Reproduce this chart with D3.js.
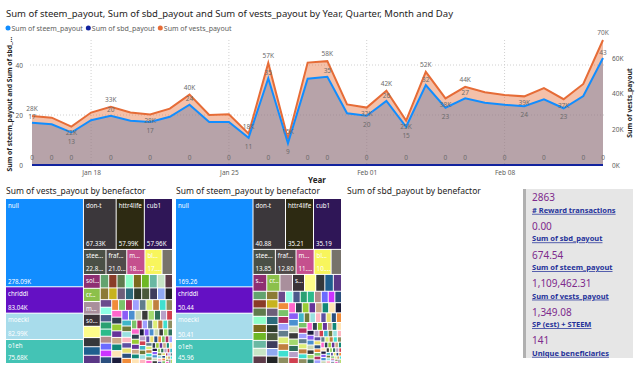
<!DOCTYPE html>
<html lang="en">
<head>
  <meta charset="UTF-8">
  <title>Steem payouts by day and benefactor</title>
  <script src="https://d3js.org/d3.v7.min.js"></script>
  <style>
    body {
      margin: 0;
      background: #fff;
    }

    svg text {
      font-family: "Segoe UI", "Noto Sans", sans-serif;
    }

    .tick text {
      fill: #605e5c;
      font-size: 6.5px;
    }

    .data-label {
      fill: #6b6b6b;
      font-size: 6.5px;
      text-anchor: middle;
    }

    .tm-label {
      fill: #fff;
      font-size: 6.2px;
    }
  </style>
</head>

<body>
  <svg id="dash" width="640" height="369"></svg>

  <script>
    // ---- daily series ----
    const days = [
      "2018-01-15", "2018-01-16", "2018-01-17", "2018-01-18", "2018-01-19", "2018-01-20",
      "2018-01-21", "2018-01-22", "2018-01-23", "2018-01-24", "2018-01-25", "2018-01-26",
      "2018-01-27", "2018-01-28", "2018-01-29", "2018-01-30", "2018-01-31", "2018-02-01",
      "2018-02-02", "2018-02-03", "2018-02-04", "2018-02-05", "2018-02-06", "2018-02-07",
      "2018-02-08", "2018-02-09", "2018-02-10", "2018-02-11", "2018-02-12", "2018-02-13"
    ];
    const steemPayout = [
      16.9, 16.3, 13.0, 17.9, 19.7, 17.7, 17.2, 19.3, 24.1, 17.2, 17.2, 10.9, 34.7, 8.7, 34.5,
      35.3, 20.7, 19.7, 25.6, 15.3, 32.0, 22.9, 26.7, 24.9, 24.1, 23.5, 26.3, 22.7, 27.6, 42.8
    ];
    const sbdPayout = [
      0, 0, 0, 0, 0, 0, 0, 0, 0, 0, 0, 0, 0, 0, 0,
      0, 0, 0, 0, 0, 0, 0, 0, 0, 0, 0, 0, 0, 0, 0
    ];
    const vestsPayout = [
      27600, 26600, 21600, 29500, 32800, 29500, 28400, 31700, 39600, 28100, 28500, 17600, 57400, 14600, 57600,
      58400, 34100, 32300, 41800, 25000, 52400, 37500, 44000, 40900, 39400, 38600, 43200, 37000, 45600, 70300
    ];
    // days whose values carry a label, as in the report
    const valueLabelDays = [0, 2, 4, 6, 8, 11, 12, 13, 15, 17, 18, 19, 20, 21, 22, 25, 27, 29];
    const sbdLabelDays = [0, 1, 2, 4, 6, 8, 10, 12, 14, 15, 17, 19, 21, 22, 24, 26, 28, 29];

    const dateTicks = ["2018-01-18", "2018-01-25", "2018-02-01", "2018-02-08"];
    const leftTicks = [0, 20, 40];
    const rightTicks = [0, 20000, 40000, 60000];

    // ---- by benefactor ----
    const benefactorNames = [
      "null", "chriddi", "moecki", "o1eh", "don-t", "httr4life", "cub1",
      "stee...", "fraf...", "m...", "bl...", "", "sol...", "cr...", "m...", "so..."
    ];
    const vestsByBenefactor = [
      278.09, 83.04, 82.99, 75.68, 67.33, 57.99, 57.96, 22.82, 21.04, 18.4, 17.3, 10.6,
      9.4, 9.0, 8.6, 8.2, 7.7, 6.2, 5.8, 5.6,
      4.6, 4.5, 4.5, 4.4, 4.4, 4.3, 4.3, 4.2, 4.1, 4.0, 4.0, 3.9, 3.9, 3.8, 3.8, 3.7,
      3.6, 3.5, 3.5, 3.4, 3.4, 3.3, 3.3, 3.2, 3.2,
      3.1, 3.1, 3.0, 3.0, 3.0, 3.0, 2.9, 2.9, 2.9, 2.9, 2.8, 2.8, 2.8, 2.8, 2.7, 2.7, 2.7, 2.7,
      2.6, 2.6, 2.6, 2.6, 2.5, 2.5, 2.4, 2.4, 2.3, 2.3, 2.2, 2.2, 2.1, 2.1, 2.0, 2.0, 2.0,
      1.9, 1.9, 1.9, 1.8, 1.8, 1.8, 1.7, 1.7, 1.7, 1.6, 1.6, 1.6, 1.5, 1.5, 1.5,
      1.4, 1.4, 1.4, 1.4, 1.3, 1.3, 1.3, 1.3, 1.2, 1.2, 1.2, 1.2, 1.1, 1.1, 1.1, 1.1,
      1.0, 1.0, 1.0, 1.0, 0.9, 0.9, 0.9, 0.9, 0.9, 0.8, 0.8, 0.8, 0.8, 0.8,
      0.7, 0.7, 0.7, 0.7, 0.7, 0.6, 0.6, 0.6, 0.6, 0.6, 0.5, 0.5, 0.5, 0.5, 0.5,
      0.4, 0.4, 0.4, 0.4, 0.4, 0.3, 0.3, 0.3, 0.3, 0.3, 0.3, 0.3, 0.3, 0.3, 0.3
    ];
    const steemByBenefactor = [
      169.26, 50.44, 50.41, 45.96, 40.88, 35.21, 35.19, 13.85, 12.80, 11.19, 10.52, 6.44,
      5.72, 5.47, 5.23, 4.99, 4.68, 3.77, 3.53, 3.40,
      2.80, 2.74, 2.74, 2.68, 2.68, 2.61, 2.61, 2.55, 2.49, 2.43, 2.43, 2.37, 2.37, 2.31, 2.31, 2.25,
      2.19, 2.13, 2.13, 2.07, 2.07, 2.01, 2.01, 1.95, 1.95,
      1.88, 1.88, 1.82, 1.82, 1.82, 1.82, 1.76, 1.76, 1.76, 1.76, 1.70, 1.70, 1.70, 1.70, 1.64, 1.64, 1.64, 1.64,
      1.58, 1.58, 1.58, 1.58, 1.52, 1.52, 1.46, 1.46, 1.40, 1.40, 1.34, 1.34, 1.28, 1.28, 1.22, 1.22, 1.22,
      1.16, 1.16, 1.16, 1.09, 1.09, 1.09, 1.03, 1.03, 1.03, 0.97, 0.97, 0.97, 0.91, 0.91, 0.91,
      0.85, 0.85, 0.85, 0.85, 0.79, 0.79, 0.79, 0.79, 0.73, 0.73, 0.73, 0.73, 0.67, 0.67, 0.67, 0.67,
      0.61, 0.61, 0.61, 0.61, 0.55, 0.55, 0.55, 0.55, 0.55, 0.49, 0.49, 0.49, 0.49, 0.49,
      0.43, 0.43, 0.43, 0.43, 0.43, 0.36, 0.36, 0.36, 0.36, 0.36, 0.30, 0.30, 0.30, 0.30, 0.30,
      0.24, 0.24, 0.24, 0.24, 0.24, 0.18, 0.18, 0.18, 0.18, 0.18, 0.18, 0.18, 0.18, 0.18, 0.18
    ];

    // ---- cards ----
    const kpiValues = ["2863", "0.00", "674.54", "1,109,462.31", "1,349.08", "141"];
    const kpiLabels = ["# Reward transactions", "Sum of sbd_payout", "Sum of steem_payout",
      "Sum of vests_payout", "SP (est) + STEEM", "Unique beneficiaries"];

    const tileColors = [
      "#118dff", "#6410c4", "#a8dceb", "#44c3b5", "#3b373b", "#2d2a12", "#2f1657",
      "#4a5046", "#504a49", "#c5508e", "#f8f55c", "#77736b",
      "#8e2f72", "#8cc04b", "#a98f9c", "#3b3338", "#fdfd8a", "#35383b", "#1f5f8e", "#5a3786",
      "#63a36f", "#8a3c28", "#5f7b4d", "#8dffc8", "#7b6b1d", "#6eb825", "#6ab8a3", "#c8e5c6", "#5d3b49",
      "#8c7b36", "#c7b31e", "#6d5f79", "#2c6b7c", "#2e3c2c", "#4b5a3b", "#3e3d5d", "#90a9f2",
      "#222426", "#6b4a8c", "#8fffe6", "#4b5b8b", "#2aa172", "#2cbb8a", "#b38c8c", "#6b6bff", "#cc33ff"
    ];
    const palette = ["#8b5cf6", "#4a8fd0", "#c9d7b5", "#3a3a3a", "#a2d96e", "#2f6f5a", "#b8a0c8", "#d04050",
      "#3fb6c8", "#6e7a3a", "#9ae0e0", "#ffb6c1", "#5e4fa2", "#e8e070", "#2b4f7e", "#f08c3a", "#7ac36a",
      "#b03060", "#a0a0ff", "#607d8b", "#ddee77", "#c08040", "#40e0d0", "#8e8e60", "#ff66cc", "#304050",
      "#99cc33", "#663399", "#ccaa88", "#118877", "#ffe4b5", "#1c1c3c"];
    const tileColor = i => tileColors[i] || palette[i % palette.length];

    const svg = d3.select("#dash");

    // ---- line / area chart ----
    svg.append("text")
      .attr("x", 6).attr("y", 17)
      .attr("font-size", "9.5px").attr("fill", "#252423")
      .text("Sum of steem_payout, Sum of sbd_payout and Sum of vests_payout by Year, Quarter, Month and Day");

    const seriesInfo = [
      { name: "Sum of steem_payout", color: "#118dff" },
      { name: "Sum of sbd_payout", color: "#12239e" },
      { name: "Sum of vests_payout", color: "#e66c37" }
    ];
    let lx = 8;
    seriesInfo.forEach(s => {
      svg.append("circle").attr("cx", lx).attr("cy", 28).attr("r", 2.5).attr("fill", s.color);
      const t = svg.append("text")
        .attr("x", lx + 3.5).attr("y", 30.5)
        .attr("font-size", "7px").attr("fill", "#605e5c")
        .text(s.name);
      lx += t.node().getComputedTextLength() + 9;
    });

    const parseDay = d3.timeParse("%Y-%m-%d");
    const dates = days.map(parseDay);
    const data = dates.map((d, i) => ({
      date: d, steem: steemPayout[i], sbd: sbdPayout[i], vests: vestsPayout[i]
    }));

    const x = d3.scaleTime().domain(d3.extent(dates)).range([32, 603]);
    const yL = d3.scaleLinear().domain([0, 50]).range([165, 40]);
    const yR = d3.scaleLinear().domain([0, d3.max(vestsPayout)]).range([165, 40]);

    // dotted grid
    svg.append("g").selectAll("line")
      .data(leftTicks.filter(d => d > 0))
      .join("line")
      .attr("x1", 30).attr("x2", 606)
      .attr("y1", d => yL(d)).attr("y2", d => yL(d))
      .attr("stroke", "#d0d0d0").attr("stroke-dasharray", "1,2");
    svg.append("g").selectAll("line")
      .data(dateTicks.map(parseDay))
      .join("line")
      .attr("x1", d => x(d)).attr("x2", d => x(d))
      .attr("y1", 40).attr("y2", 165)
      .attr("stroke", "#d0d0d0").attr("stroke-dasharray", "1,2");

    svg.append("g")
      .attr("transform", "translate(25,0)")
      .call(d3.axisLeft(yL).tickValues(leftTicks).tickSize(0).tickPadding(2))
      .call(g => g.select(".domain").remove());

    svg.append("g")
      .attr("transform", "translate(610,0)")
      .call(d3.axisRight(yR).tickValues(rightTicks).tickSize(0).tickPadding(2)
        .tickFormat(d => (d / 1000) + "K"))
      .call(g => g.select(".domain").remove());

    svg.append("g")
      .attr("transform", "translate(0,165)")
      .call(d3.axisBottom(x).tickValues(dateTicks.map(parseDay)).tickSize(0).tickPadding(5)
        .tickFormat(d3.timeFormat("%b %d")))
      .call(g => g.select(".domain").remove());

    svg.append("text")
      .attr("x", 317).attr("y", 183)
      .attr("text-anchor", "middle")
      .attr("font-size", "8px").attr("font-weight", "bold").attr("fill", "#252423")
      .text("Year");

    svg.append("text")
      .attr("transform", "translate(11.5,104) rotate(-90)")
      .attr("text-anchor", "middle")
      .attr("font-size", "6.8px").attr("font-weight", "bold").attr("fill", "#252423")
      .text("Sum of steem_payout and Sum of sbd_...");

    svg.append("text")
      .attr("transform", "translate(632,103) rotate(-90)")
      .attr("text-anchor", "middle")
      .attr("font-size", "6.8px").attr("font-weight", "bold").attr("fill", "#252423")
      .text("Sum of vests_payout");

    // areas
    svg.append("path")
      .datum(data)
      .attr("fill", "#118dff").attr("fill-opacity", 0.45)
      .attr("d", d3.area().x(d => x(d.date)).y0(yL(0)).y1(d => yL(d.steem)));

    svg.append("path")
      .datum(data)
      .attr("fill", "#e66c37").attr("fill-opacity", 0.43)
      .attr("d", d3.area().x(d => x(d.date)).y0(yR(0)).y1(d => yR(d.vests)));

    // lines
    svg.append("path")
      .datum(data)
      .attr("fill", "none").attr("stroke", "#e66c37").attr("stroke-width", 2)
      .attr("d", d3.line().x(d => x(d.date)).y(d => yR(d.vests)));

    svg.append("path")
      .datum(data)
      .attr("fill", "none").attr("stroke", "#118dff").attr("stroke-width", 2)
      .attr("d", d3.line().x(d => x(d.date)).y(d => yL(d.steem)));

    svg.append("path")
      .datum(data)
      .attr("fill", "none").attr("stroke", "#12239e").attr("stroke-width", 2)
      .attr("d", d3.line().x(d => x(d.date)).y(d => yL(d.sbd)));

    // data labels: above at local peaks, below otherwise
    const isPeak = (arr, i) => i === 0 || i === arr.length - 1 ||
      (arr[i] >= arr[i - 1] && arr[i] >= arr[i + 1]);

    svg.append("g").selectAll("text")
      .data(valueLabelDays)
      .join("text")
      .attr("class", "data-label")
      .attr("x", i => x(dates[i]))
      .attr("y", i => (isPeak(vestsPayout, i) || yL(steemPayout[i]) > 135)
        ? yR(vestsPayout[i]) - 5 : yR(vestsPayout[i]) + 8.5)
      .text(i => Math.round(vestsPayout[i] / 1000) + "K");

    svg.append("g").selectAll("text")
      .data(valueLabelDays)
      .join("text")
      .attr("class", "data-label")
      .attr("x", i => x(dates[i]))
      .attr("y", i => isPeak(steemPayout, i) ? yL(steemPayout[i]) - 3.5 : yL(steemPayout[i]) + 11)
      .text(i => Math.round(steemPayout[i]));

    svg.append("g").selectAll("text")
      .data(sbdLabelDays)
      .join("text")
      .attr("class", "data-label")
      .attr("x", i => x(dates[i]))
      .attr("y", i => yL(sbdPayout[i]) - 5)
      .text(i => Math.round(sbdPayout[i]));

    // ---- treemaps ----
    function fitText(sel, str, maxW) {
      const node = sel.node();
      sel.text(str);
      if (node.getComputedTextLength() <= maxW) return;
      const base = str.replace(/\.\.\.$/, "");
      for (let k = base.length - 1; k > 0; k--) {
        sel.text(base.slice(0, k) + "...");
        if (node.getComputedTextLength() <= maxW) return;
      }
      sel.remove();
    }

    function drawTreemap(x0, y0, w, h, title, values, fmt) {
      svg.append("text")
        .attr("x", x0).attr("y", y0 - 5)
        .attr("font-size", "8.5px").attr("fill", "#252423")
        .text(title);

      if (!values) return;

      const root = d3.hierarchy({
        children: values.map((v, i) => ({ name: benefactorNames[i] || "", value: v, idx: i }))
      })
        .sum(d => d.value)
        .sort((a, b) => b.value - a.value);

      d3.treemap().size([w, h]).paddingInner(1).tile(d3.treemapSquarify)(root);

      const cell = svg.append("g")
        .attr("transform", `translate(${x0},${y0})`)
        .selectAll("g")
        .data(root.leaves())
        .join("g")
        .attr("transform", d => `translate(${d.x0},${d.y0})`);

      cell.append("rect")
        .attr("width", d => Math.max(0, d.x1 - d.x0))
        .attr("height", d => Math.max(0, d.y1 - d.y0))
        .attr("fill", d => tileColor(d.data.idx));

      cell.each(function (d) {
        const cw = d.x1 - d.x0, ch = d.y1 - d.y0;
        if (!d.data.name || ch < 9) return;
        const g = d3.select(this);
        fitText(g.append("text").attr("class", "tm-label").attr("x", 2).attr("y", 8.5),
          d.data.name, cw - 2);
        if (ch >= 20) {
          fitText(g.append("text").attr("class", "tm-label").attr("x", 2).attr("y", ch - 2.5),
            fmt(d.data.value), cw - 2);
        }
      });
    }

    drawTreemap(6, 199, 166, 164, "Sum of vests_payout by benefactor",
      vestsByBenefactor, v => d3.format(".2f")(v) + "K");
    drawTreemap(176, 199, 165, 164, "Sum of steem_payout by benefactor",
      steemByBenefactor, d3.format(".2f"));
    drawTreemap(347, 199, 165, 164, "Sum of sbd_payout by benefactor", null);

    // ---- cards ----
    svg.append("rect")
      .attr("x", 523).attr("y", 189).attr("width", 110).attr("height", 169)
      .attr("fill", "#e6e6e6");
    svg.append("rect")
      .attr("x", 523).attr("y", 189).attr("width", 3).attr("height", 169)
      .attr("fill", "#b0b0b0");

    kpiValues.forEach((v, i) => {
      const by = 201.3 + i * 28.6;
      svg.append("text")
        .attr("x", 532).attr("y", by)
        .attr("font-size", "10px").attr("fill", "#7e2a8c")
        .text(v);
      svg.append("text")
        .attr("x", 532).attr("y", by + 11.5)
        .attr("font-size", "7.5px").attr("font-weight", "bold").attr("fill", "#25329a")
        .attr("text-decoration", "underline")
        .text(kpiLabels[i]);
    });
  </script>
</body>

</html>
